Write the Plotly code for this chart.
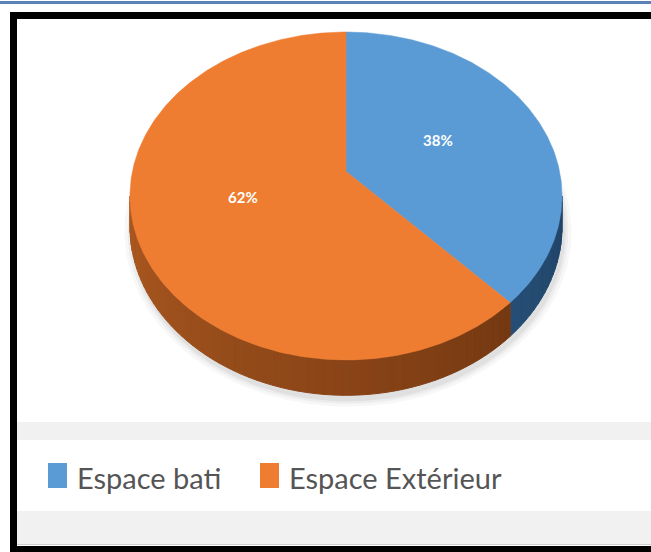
import numpy as np
import plotly.graph_objects as go

# ---------------- data ----------------
categories = ["Espace bati", "Espace Extérieur"]
values = [38, 62]
labels_txt = [f"{v}%" for v in values]

# ---------------- styling ----------------
W, H = 651, 552
top_colors = ["#5b9bd5", "#ee7d31"]
side_dark = ["#1d3f62", "#5c2a0b"]
side_light = ["#3a6c9c", "#a8561f"]
# perspective pie geometry (pixels)
cx, cy0, A, S, K, D = 346, 171.4, 213.6, 0.7505, 0.15, 30
label_pos = [(438, 140), (243, 197)]


def mix(c1, c2, f):
    c1 = [int(c1[i:i + 2], 16) for i in (1, 3, 5)]
    c2 = [int(c2[i:i + 2], 16) for i in (1, 3, 5)]
    return "rgb(%d,%d,%d)" % tuple(round(x + (y - x) * f) for x, y in zip(c1, c2))


def proj(t, h=0.0, scale=1.0):
    t = np.asarray(t, dtype=float)
    den = 1 + K * np.cos(t)
    x = cx + scale * A * np.sin(t) / den
    y = cy0 - scale * A * S * np.cos(t) / den + h / den
    return list(x), list(y)


def arc(t0, t1, h=0.0, n=None):
    if n is None:
        n = max(2, int(abs(t1 - t0) / np.radians(0.5)) + 1)
    return proj(np.linspace(t0, t1, n), h)


fig = go.Figure()

# soft shadow under the pie
tt = np.linspace(0, 2 * np.pi, 240)
for k, alpha in [(1.035, 0.03), (1.02, 0.04), (1.008, 0.05)]:
    xs, ys = proj(tt, D + 4, k)
    fig.add_trace(go.Scatter(x=[v + 2 for v in xs], y=ys, mode="lines", fill="toself",
                             line=dict(width=0), fillcolor=f"rgba(0,0,0,{alpha})",
                             hoverinfo="skip"))

total = sum(values)
fracs = [v / total for v in values]
bounds = np.concatenate([[0], np.cumsum(fracs)]) * 2 * np.pi

# 3D side (visible front part between silhouette points)
vis0, vis1 = np.arccos(-K), 2 * np.pi - np.arccos(-K)
for i in range(len(values)):
    t0 = max(bounds[i], vis0)
    t1 = min(bounds[i + 1], vis1)
    if t1 <= t0:
        continue
    edges = np.linspace(t0, t1, max(2, int((t1 - t0) / np.radians(2)) + 1))
    for u, v in zip(edges[:-1], edges[1:]):
        f = ((u + v) / 2 - np.pi / 2) / np.pi
        col = mix(side_dark[i], side_light[i], min(1, max(0, f) ** 0.9 * 1.1))
        xs1, ys1 = arc(u, v, 0, 4)
        xs2, ys2 = arc(v, u, D, 4)
        fig.add_trace(go.Scatter(
            x=xs1 + xs2 + [xs1[0]], y=ys1 + ys2 + [ys1[0]],
            mode="lines", fill="toself", fillcolor=col,
            line=dict(color=col, width=1), hoverinfo="skip"))

# top face slices
for i in range(len(values)):
    xs, ys = arc(bounds[i], bounds[i + 1])
    fig.add_trace(go.Scatter(
        x=[cx] + xs + [cx], y=[cy0] + ys + [cy0],
        mode="lines", fill="toself", fillcolor=top_colors[i],
        line=dict(color=top_colors[i], width=0.5),
        name=categories[i], hoverinfo="skip"))

# data labels
for (lx, ly), txt in zip(label_pos, labels_txt):
    fig.add_annotation(x=lx, y=ly, text=f"<b>{txt}</b>", showarrow=False,
                       font=dict(family="Lato", size=15, color="white"))

# legend (manual, large)
leg_y = 476
leg_items = [(48, 75), (260, 287)]
for (sx, tx), name, col in zip(leg_items, categories, top_colors):
    fig.add_shape(type="rect", x0=sx, x1=sx + 19, y0=leg_y - 13, y1=leg_y + 12,
                  fillcolor=col, line=dict(width=0), layer="above")
    fig.add_annotation(x=tx, y=leg_y + 1, text=name, showarrow=False,
                       xanchor="left", yanchor="middle",
                       font=dict(family="Lato", size=29, color="#555555"))

shapes = [
    # chart area background
    dict(type="rect", x0=17, x1=W + 5, y0=19, y1=405, fillcolor="#f5f5f5", line=dict(width=0), layer="below"),
    dict(type="rect", x0=17, x1=W + 5, y0=405, y1=546, fillcolor="#fcfcfc", line=dict(width=0), layer="below"),
    dict(type="rect", x0=17, x1=W + 5, y0=422, y1=440, fillcolor="#f1f1f1", line=dict(width=0), layer="below"),
    dict(type="rect", x0=17, x1=W + 5, y0=511, y1=544, fillcolor="#f1f1f1", line=dict(width=0), layer="below"),
    dict(type="line", x0=17, x1=W + 5, y0=544.5, y1=544.5, line=dict(color="#cfcfcf", width=1), layer="below"),
    # black frame
    dict(type="rect", x0=13.5, x1=W + 20, y0=15.5, y1=549.5, line=dict(color="black", width=7),
         fillcolor="rgba(0,0,0,0)", layer="above"),
    # blue rule on top
    dict(type="line", x0=0, x1=W, y0=2.5, y1=2.5, line=dict(color="#5a82b6", width=3), layer="above"),
]

fig.update_layout(
    width=W, height=H, margin=dict(l=0, r=0, t=0, b=0),
    paper_bgcolor="white", plot_bgcolor="white", showlegend=False,
    xaxis=dict(range=[0, W], visible=False, fixedrange=True),
    yaxis=dict(range=[H, 0], visible=False, fixedrange=True),
    shapes=shapes,
)

fig.write_html(
    "out.html",
    config={"displayModeBar": False},
    post_script="document.body.style.margin='0';document.body.style.overflow='hidden';",
)
